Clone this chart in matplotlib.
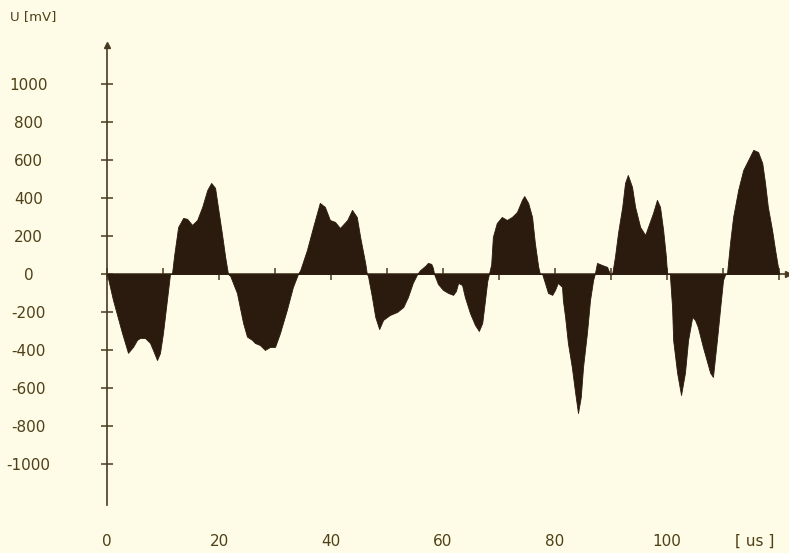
import matplotlib
matplotlib.use("Agg")
import matplotlib.pyplot as plt
import matplotlib.transforms as mtransforms
from matplotlib.ticker import FixedLocator

# Sampled waveform: time in microseconds, voltage in millivolts
time_us = [
    0.0, 1.07, 2.68, 3.75, 4.64, 5.36, 5.89, 6.79, 7.14, 7.68, 8.21, 8.93, 9.46, 10.0, 10.7, 11.25,
    11.6, 12.0, 12.7, 13.6, 14.3, 15.2, 16.1, 17.0, 17.9, 18.6, 19.3, 19.8, 20.5, 21.1, 21.6,
    22.0, 23.2, 24.3, 25.0, 25.9, 26.4, 27.3, 28.2, 29.1, 30.0, 30.9, 32.1, 33.2, 34.1,
    34.5, 35.7, 36.8, 38.0, 38.9, 39.8, 40.7, 41.6, 42.9, 43.75, 44.6, 45.2, 46.1, 46.4,
    46.6, 47.3, 47.9, 48.6, 49.3, 50.5, 51.8, 52.9, 53.75, 54.6, 55.4,
    55.9, 56.8, 57.3, 57.9, 58.2, 58.4,
    59.1, 60.0, 60.9, 61.8, 62.3, 62.7, 63.4, 63.9, 64.8, 65.7, 66.4, 67.0, 67.5, 67.9, 68.2,
    68.6, 68.9, 69.6, 70.5, 71.4, 72.3, 73.2, 74.1, 74.5, 75.2, 75.9, 76.4, 77.0, 77.3,
    77.7, 78.2, 78.75, 79.5, 80.0, 80.5, 81.25, 81.4, 81.8, 82.3, 83.0, 83.6, 84.1, 84.6, 85.0,
    85.7, 86.25, 86.8, 87.1,
    87.5, 88.4, 89.3, 89.8,
    90.2, 90.7, 91.25, 92.0, 92.5, 93.0, 93.75, 94.3, 95.2, 96.1, 96.6, 97.5, 98.2, 98.75, 99.3,
    99.8, 100.0,
    100.5, 100.9, 101.1, 101.8, 102.5, 103.2, 103.75, 104.5, 105.0, 105.5, 106.4, 107.7, 108.2,
    108.9, 109.5, 110.0, 110.4,
    110.7, 111.25, 111.8, 112.7, 113.6, 114.5, 115.4, 116.25, 117.0, 117.5, 118.0, 118.75,
    119.3, 119.8, 120.0,
]
voltage_mv = [
    0, -137, -310, -415, -384, -347, -337, -337, -347, -363, -400, -453, -416, -310, -137, 0,
    0, 100, 247, 295, 290, 258, 284, 353, 442, 479, 453, 353, 216, 90, 0,
    -10, -100, -258, -330, -347, -363, -374, -400, -384, -384, -310, -190, -68, 0,
    20, 126, 247, 374, 353, 284, 274, 242, 284, 337, 300, 195, 58, 0,
    -10, -120, -226, -290, -242, -216, -200, -174, -120, -47, 0,
    20, 42, 58, 53, 32, 0,
    -53, -84, -100, -110, -90, -47, -58, -121, -205, -268, -300, -258, -137, -37, 0,
    50, 195, 268, 300, 284, 300, 326, 390, 410, 374, 300, 163, 37, 0,
    0, -47, -100, -110, -84, -47, -68, -137, -226, -363, -490, -626, -732, -647, -490,
    -310, -137, -32, 0,
    58, 47, 37, 0,
    0, 90, 216, 353, 479, 521, 458, 353, 247, 205, 247, 321, 390, 353, 232,
    90, 0,
    0, -175, -350, -520, -637, -520, -350, -226, -242, -279, -384, -520, -542,
    -350, -175, -32, 0,
    0, 163, 300, 442, 547, 600, 653, 642, 584, 479, 353, 232,
    126, 37, 0,
]

y_ticks = [-1000, -800, -600, -400, -200, 0, 200, 400, 600, 800, 1000]
x_label_ticks = [0, 20, 40, 60, 80, 100]
x_minor_ticks = [10, 30, 50, 70, 90, 110, 120]

paper = "#fefbe6"
ink = "#4a3a22"
text_col = "#4f4018"
fill_col = "#2a1b0e"

fig = plt.figure(figsize=(7.89, 5.53), dpi=100, facecolor=paper)
ax = fig.add_axes([107 / 789, 48 / 553, 681 / 789, 460 / 553])
ax.set_facecolor(paper)

ax.fill_between(time_us, voltage_mv, 0, color=fill_col, linewidth=0.6,
                edgecolor=fill_col, zorder=3)

ax.set_xlim(0, 121.6)
ax.set_ylim(-1216, 1205)

# y axis: left spine with crossing ticks
for side in ("right", "bottom"):
    ax.spines[side].set_visible(False)
ax.spines["left"].set_color(ink)
ax.spines["left"].set_linewidth(1.2)
# zero line carries the time ticks
ax.spines["top"].set_position(("data", 0))
ax.spines["top"].set_color(ink)
ax.spines["top"].set_linewidth(1.2)

ax.yaxis.set_major_locator(FixedLocator(y_ticks))
ax.yaxis.set_ticklabels([str(v) for v in y_ticks])
ax.tick_params(axis="y", direction="inout", length=9, width=1.1, color=ink,
               labelcolor=text_col, labelsize=11, pad=52)
for lbl in ax.get_yticklabels():
    lbl.set_horizontalalignment("center")

ax.xaxis.set_major_locator(FixedLocator(x_label_ticks))
ax.xaxis.set_minor_locator(FixedLocator(x_minor_ticks))
ax.xaxis.set_ticklabels([str(v) for v in x_label_ticks])
ax.tick_params(axis="x", which="both", bottom=False, top=True, labeltop=False,
               labelbottom=True, direction="inout", length=8, width=1.1, color=ink)
ax.tick_params(axis="x", which="major", labelcolor=text_col, labelsize=11, pad=17)

# arrow heads on both axes
ax.plot([0], [1], marker="^", markersize=5, color=ink, transform=ax.transAxes,
        clip_on=False, zorder=4)
arrow_tr = mtransforms.blended_transform_factory(ax.transAxes, ax.transData)
ax.plot([1], [0], marker=">", markersize=5, color=ink, transform=arrow_tr,
        clip_on=False, zorder=4)

ax.set_ylabel("U [mV]", rotation=0, color=text_col, fontsize=9.5,
              ha="center", va="center")
ax.yaxis.set_label_coords(-0.109, 1.061)
ax.set_xlabel("[ us ]", color=text_col, fontsize=11, ha="center", va="center")
ax.xaxis.set_label_coords(0.951, -0.078)

fig.savefig("out.png", dpi=100, facecolor=paper)
